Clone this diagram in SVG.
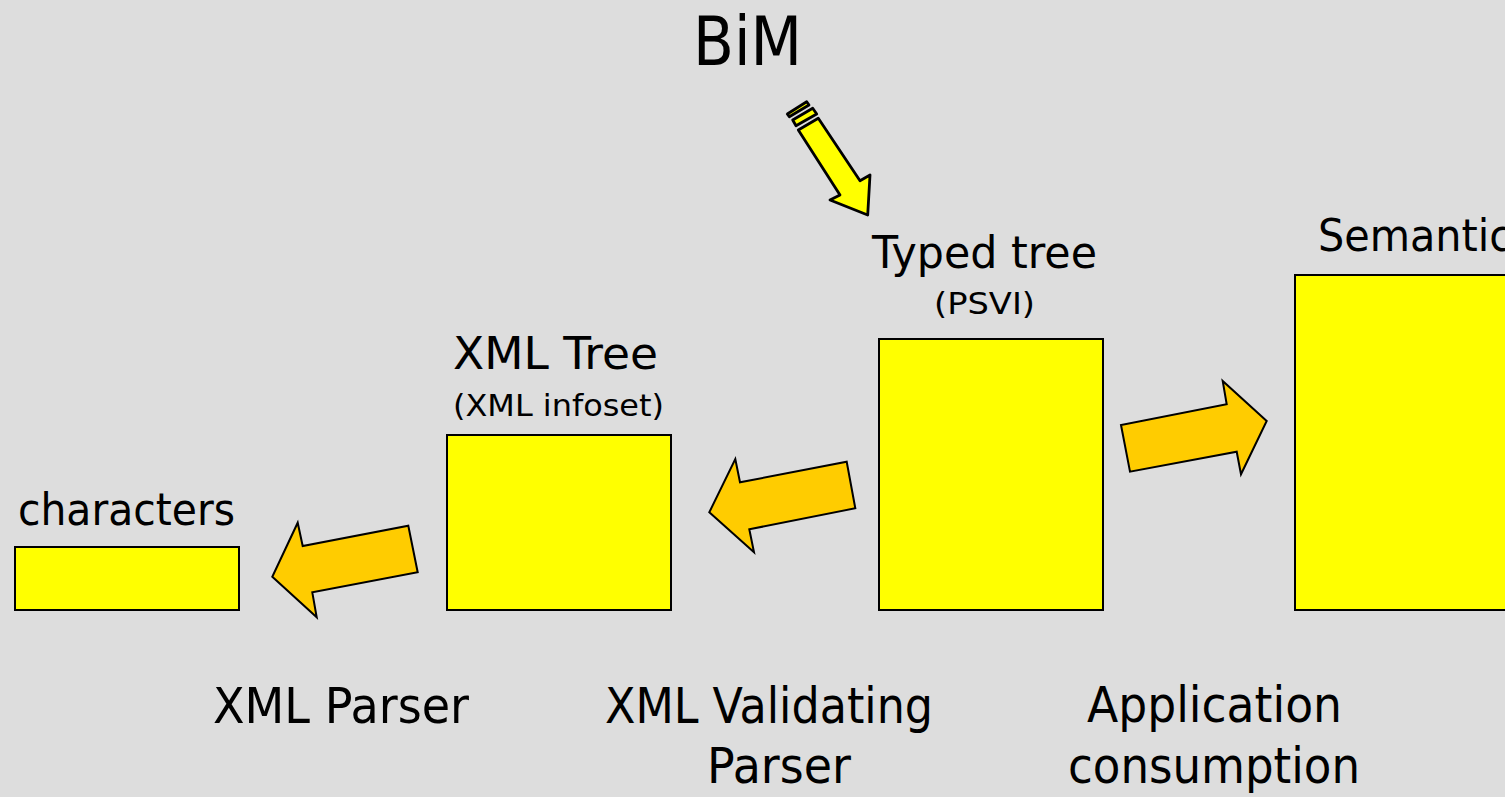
<svg xmlns="http://www.w3.org/2000/svg" width="1505" height="797" viewBox="0 0 1505 797">
  <style>
    .box { fill: #FFFF00; stroke: #000000; stroke-width: 2; }
    .flow { fill: #FFCC00; stroke: #000000; stroke-width: 2; stroke-linejoin: miter; }
    .pen { fill: #FFFF00; stroke: #000000; stroke-width: 2.8; stroke-linejoin: round; }
    .lbl { font-family: "DejaVu Sans", "Liberation Sans", sans-serif; fill: #000000; }
    .big { font-size: 50px; }
    .mid { font-size: 44px; }
    .small { font-size: 30px; }
  </style>
  <rect x="0" y="0" width="1505" height="797" fill="#DDDDDD"/>

  <!-- title -->
  <text class="lbl" x="693" y="65" font-size="68" textLength="109" lengthAdjust="spacingAndGlyphs">BiM</text>

  <!-- BiM pointer into the typed tree -->
  <g id="bim-pointer">
    <polygon class="pen" points="787.3,114 806.7,101.7 809,105 789.3,116.7"/>
    <polygon class="pen" points="792.7,120 812.7,108.3 816.7,114 796,125.7"/>
    <polygon class="pen" points="798.3,130 818.3,118.3 860,180.7 870,175 867.7,215 830,200 840,195"/>
  </g>

  <!-- nodes -->
  <g id="node-characters">
    <text class="lbl mid" x="18" y="525" textLength="217" lengthAdjust="spacingAndGlyphs">characters</text>
    <rect class="box" x="15" y="547" width="224" height="63"/>
  </g>

  <g id="node-xml-tree">
    <text class="lbl mid" x="453" y="369" textLength="205" lengthAdjust="spacingAndGlyphs">XML Tree</text>
    <text class="lbl small" x="453" y="416" textLength="211" lengthAdjust="spacingAndGlyphs">(XML infoset)</text>
    <rect class="box" x="447" y="435" width="224" height="175"/>
  </g>

  <g id="node-typed-tree">
    <text class="lbl mid" x="872" y="268" textLength="225" lengthAdjust="spacingAndGlyphs">Typed tree</text>
    <text class="lbl small" x="934" y="314" textLength="101" lengthAdjust="spacingAndGlyphs">(PSVI)</text>
    <rect class="box" x="879" y="339" width="224" height="271"/>
  </g>

  <g id="node-semantic">
    <text class="lbl mid" x="1318" y="251" textLength="194" lengthAdjust="spacingAndGlyphs">Semantic</text>
    <rect class="box" x="1295" y="275" width="224" height="335"/>
  </g>

  <!-- processing steps -->
  <g id="connectors">
    <polygon class="flow" points="408.3,525.7 417.7,572.3 312.3,592.3 316.7,617.3 272.3,576.7 297.7,522.7 302.7,546"/>
    <polygon class="flow" points="846.7,461.7 855.3,508.3 749.3,529.3 754,552.3 709.3,512.3 735.3,459 740,482.3"/>
    <polygon class="flow" points="1121,425 1130,471.7 1236.7,451.7 1241,474.3 1266.7,421 1222.7,381 1226.7,404.3"/>
  </g>

  <!-- step labels -->
  <g id="step-labels">
    <text class="lbl big" x="213" y="723" textLength="256" lengthAdjust="spacingAndGlyphs">XML Parser</text>
    <text class="lbl big" x="605" y="723" textLength="328" lengthAdjust="spacingAndGlyphs">XML Validating</text>
    <text class="lbl big" x="707" y="783" textLength="144" lengthAdjust="spacingAndGlyphs">Parser</text>
    <text class="lbl big" x="1087" y="722" textLength="255" lengthAdjust="spacingAndGlyphs">Application</text>
    <text class="lbl big" x="1068" y="783" textLength="292" lengthAdjust="spacingAndGlyphs">consumption</text>
  </g>
</svg>
